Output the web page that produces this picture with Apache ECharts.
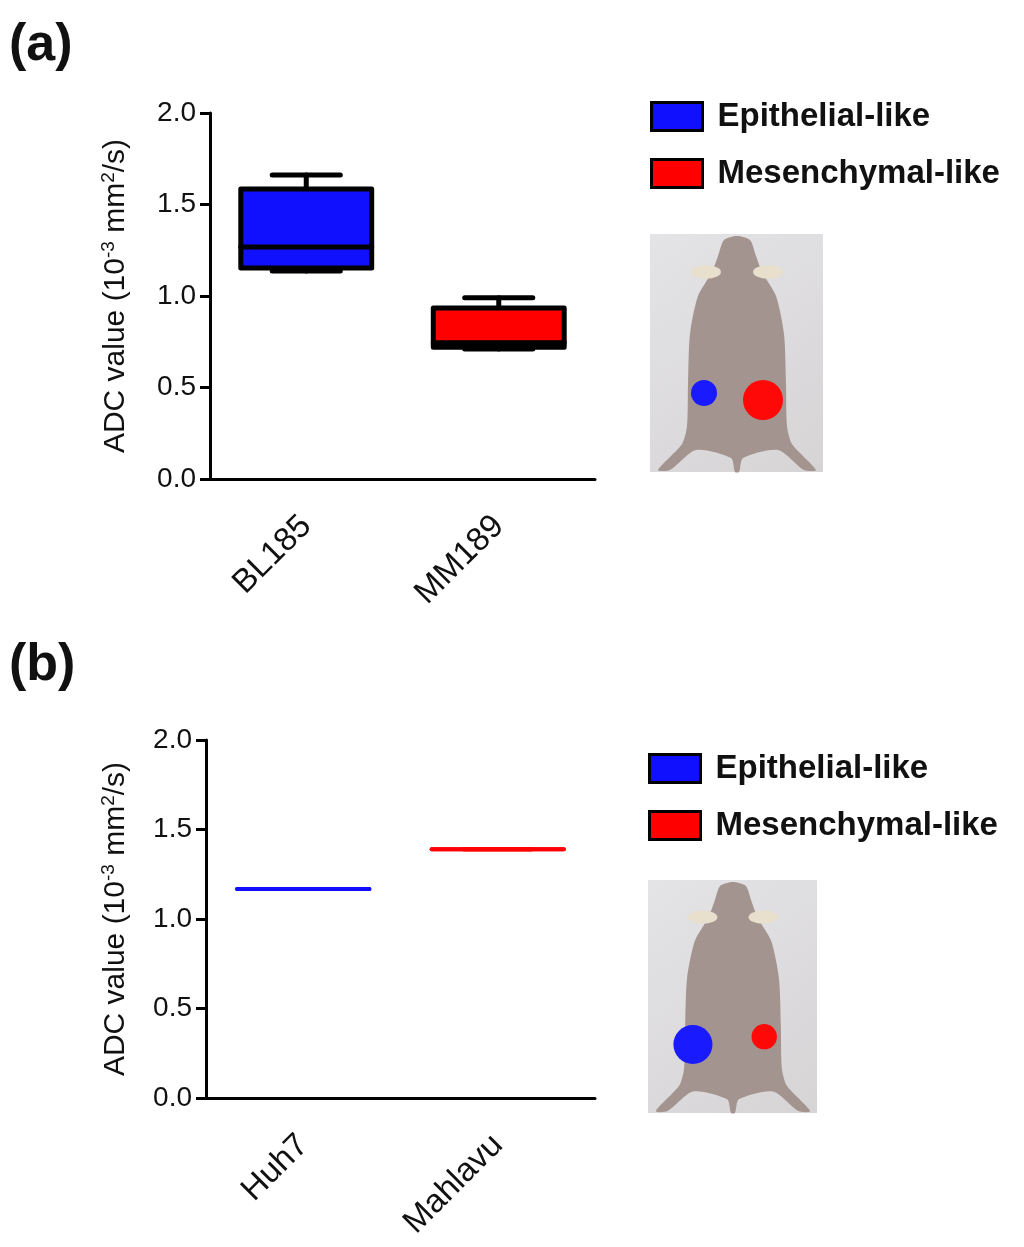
<!DOCTYPE html>
<html>
<head>
<meta charset="utf-8">
<title>ADC value</title>
<script src="https://cdn.jsdelivr.net/npm/echarts@6/dist/echarts.min.js"></script>
<style>
    html, body { margin: 0; padding: 0; background: #fff; }
    #chart { width: 1024px; height: 1247px; }
</style>
</head>
<body>
<div id="chart"></div>
<script>
// categories per panel
const groupsA = ["BL185", "MM189"];
const groupsB = ["Huh7", "Mahlavu"];
// box values: [min, Q1, median, Q3, max]
const boxA = [
    [1.137, 1.153, 1.268, 1.585, 1.661],
    [0.71, 0.72, 0.745, 0.935, 0.99]
];
const boxB = [
    [1.168, 1.168, 1.168, 1.168, 1.168],
    [1.39, 1.39, 1.39, 1.39, 1.39]
];
const legendNames = ["Epithelial-like", "Mesenchymal-like"];
const colors = ["#1010ff", "#ff0000"];
const yMin = 0, yMax = 2, yStep = 0.5;

const font = "Arial, 'Liberation Sans', sans-serif";

function makeRender(filled) {
    return function (params, api) {
        const x = api.value(0);
        const lo = api.coord([x, api.value(1)]);
        const q1 = api.coord([x, api.value(2)]);
        const md = api.coord([x, api.value(3)]);
        const q3 = api.coord([x, api.value(4)]);
        const hi = api.coord([x, api.value(5)]);
        const band = api.size([1, 0])[0];
        const bw = band * 0.68;
        const cw = bw * 0.52;
        const cx = q1[0];
        const col = api.visual("color");
        const stroke = filled ? "#000" : col;
        const lw = filled ? 5 : 4;
        const line = (x1, y1, x2, y2) => ({
            type: "line",
            shape: {x1: x1, y1: y1, x2: x2, y2: y2},
            style: {stroke: stroke, lineWidth: lw, lineCap: "round"}
        });
        return {
            type: "group",
            children: [
                line(cx, q3[1], cx, hi[1]),
                line(cx, q1[1], cx, lo[1]),
                line(cx - cw / 2, hi[1], cx + cw / 2, hi[1]),
                line(cx - cw / 2, lo[1], cx + cw / 2, lo[1]),
                {
                    type: "rect",
                    shape: {x: cx - bw / 2, y: q3[1], width: bw, height: q1[1] - q3[1]},
                    style: {fill: filled ? col : "none", stroke: stroke, lineWidth: lw, lineJoin: "round"}
                },
                line(cx - bw / 2, md[1], cx + bw / 2, md[1])
            ]
        };
    };
}

function yAxisOpt(idx, gap) {
    return {
        type: "value",
        gridIndex: idx,
        min: yMin,
        max: yMax,
        interval: yStep,
        name: "{n|ADC value (10}{s|-3}{n| mm}{s|2}{n|/s)}",
        nameLocation: "middle",
        nameRotate: 90,
        nameGap: gap,
        nameTextStyle: {
            rich: {
                n: {fontFamily: font, fontSize: 30, color: "#111"},
                s: {fontFamily: font, fontSize: 19, color: "#111", verticalAlign: "top", padding: [0, 0, 14, 0]}
            }
        },
        axisLine: {show: true, lineStyle: {color: "#000", width: 3}},
        axisTick: {show: true, length: 10, lineStyle: {color: "#000", width: 3}},
        splitLine: {show: false},
        axisLabel: {
            fontFamily: font, fontSize: 28, color: "#111", margin: 14,
            formatter: v => v.toFixed(1)
        }
    };
}

function xAxisOpt(idx, cats) {
    return {
        type: "category",
        gridIndex: idx,
        data: cats,
        axisLine: {lineStyle: {color: "#000", width: 3}},
        axisTick: {alignWithLabel: true, length: 10, lineStyle: {color: "#000", width: 3}},
        axisLabel: {fontFamily: font, fontSize: 33, color: "#111", rotate: 45, margin: 42}
    };
}

function seriesFor(idx, values, filled) {
    return values.map((v, i) => ({
        type: "custom",
        name: legendNames[i],
        xAxisIndex: idx,
        yAxisIndex: idx,
        itemStyle: {color: colors[i]},
        encode: {x: 0, y: [1, 2, 3, 4, 5]},
        renderItem: makeRender(filled),
        data: [[i].concat(v)],
        silent: true
    }));
}

function legendOpt(top, left) {
    return {
        orient: "vertical",
        left: left,
        top: top,
        icon: "rect",
        itemWidth: 51,
        itemHeight: 28,
        itemGap: 24,
        selectedMode: false,
        textStyle: {fontFamily: font, fontSize: 33, fontWeight: "bold", color: "#111", padding: [0, 0, 0, 10]},
        data: legendNames.map((n, i) => ({
            name: n,
            itemStyle: {color: colors[i], borderColor: "#000", borderWidth: 3}
        }))
    };
}

// rough drawing of the photographed mouse with the two tumour spots
const mouseOutline = [
    [87, 2], [100, 6], [106, 22], [112, 38], [126, 62], [134, 100], [136, 150], [137, 192],
    [142, 210], [166, 236], [154, 236], [128, 216], [93, 224], [89, 238], [85, 238],
    [81, 224], [46, 216], [20, 236], [8, 236], [32, 210], [37, 192], [38, 150], [40, 100],
    [48, 62], [62, 38], [68, 22], [74, 6]
];

function mouse(x, y, w, h, spots) {
    return {
        type: "group",
        x: x,
        y: y,
        scaleX: w / 173,
        scaleY: h / 238,
        silent: true,
        children: [
            {type: "rect", shape: {x: 0, y: 0, width: 173, height: 238},
                style: {fill: {type: "linear", x: 0, y: 0, x2: 1, y2: 1,
                    colorStops: [{offset: 0, color: "#e4e3e6"}, {offset: 1, color: "#d6d4d5"}]}}},
            {type: "polygon", shape: {points: mouseOutline, smooth: 0.25}, style: {fill: "#a4948f"}},
            {type: "circle", x: 56, y: 38, scaleY: 0.45, shape: {cx: 0, cy: 0, r: 15}, style: {fill: "#e8dfcc"}},
            {type: "circle", x: 118, y: 38, scaleY: 0.45, shape: {cx: 0, cy: 0, r: 15}, style: {fill: "#e8dfcc"}}
        ].concat(spots.map(s => ({
            type: "circle", shape: {cx: s[0], cy: s[1], r: s[2]}, style: {fill: s[3]}
        })))
    };
}

const chart = echarts.init(document.getElementById("chart"));
chart.setOption({
    animation: false,
    backgroundColor: "#fff",
    grid: [
        {left: 210, top: 113, width: 385, height: 366},
        {left: 206, top: 740, width: 389, height: 358}
    ],
    xAxis: [xAxisOpt(0, groupsA), xAxisOpt(1, groupsB)],
    yAxis: [yAxisOpt(0, 78), yAxisOpt(1, 74)],
    legend: [legendOpt(95, 645), legendOpt(747, 643)],
    series: seriesFor(0, boxA, true).concat(seriesFor(1, boxB, false)),
    graphic: [
        {type: "text", x: 9, y: 20, style: {text: "(a)", fontFamily: font, fontSize: 52, fontWeight: "bold", fill: "#111"}},
        {type: "text", x: 9, y: 640, style: {text: "(b)", fontFamily: font, fontSize: 52, fontWeight: "bold", fill: "#111"}},
        mouse(650, 234, 173, 238, [[54, 159, 13, "#1a1aff"], [113, 166, 20, "#ff0808"]]),
        mouse(648, 880, 169, 233, [[46, 168, 20, "#1a1aff"], [119, 160, 13, "#ff0808"]])
    ]
});
</script>
</body>
</html>
